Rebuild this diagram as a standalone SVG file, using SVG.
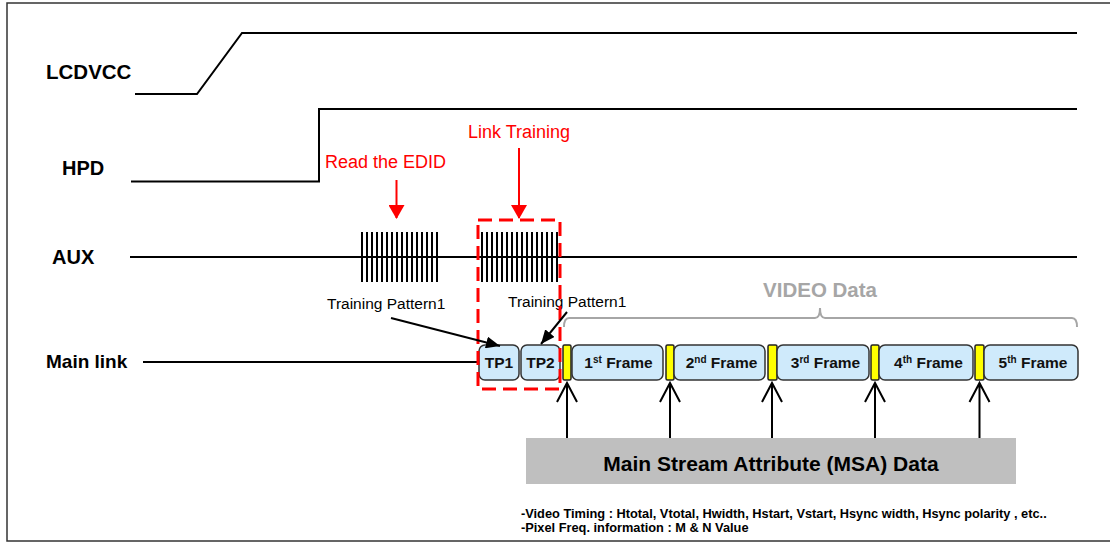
<svg xmlns="http://www.w3.org/2000/svg" width="1110" height="543" viewBox="0 0 1110 543">
<defs>
<style>
.sig{fill:none;stroke:#000;stroke-width:2}
.lbl{font-family:"Liberation Sans",Arial,sans-serif;font-weight:bold;font-size:20px;fill:#000}
.red{font-family:"Liberation Sans",Arial,sans-serif;font-size:18px;fill:#ff0000}
.tp{font-family:"Liberation Sans",Arial,sans-serif;font-size:15.5px;fill:#000}
.box{fill:#cfeafb;stroke:#333;stroke-width:1.5}
.yel{fill:#ffff00;stroke:#222;stroke-width:1.5}
.ft{font-family:"Liberation Sans",Arial,sans-serif;font-weight:bold;font-size:15.5px;fill:#111;text-anchor:middle}
.sup{font-size:10px}
.note{font-family:"Liberation Sans",Arial,sans-serif;font-weight:bold;font-size:12.8px;fill:#000}
.up{fill:none;stroke:#000;stroke-width:2}
</style>
<marker id="redHead" viewBox="0 0 14 16" refX="13" refY="8" markerWidth="14" markerHeight="16" markerUnits="userSpaceOnUse" orient="auto">
<path d="M0,0 L14,8 L0,16 Z" fill="#ff0000"/>
</marker>
<marker id="blkHead" viewBox="0 0 14 12" refX="14" refY="6" markerWidth="14" markerHeight="12" markerUnits="userSpaceOnUse" orient="auto">
<path d="M0,0 L14,6 L0,12 Z" fill="#000"/>
</marker>
</defs>
<rect x="0" y="0" width="1110" height="543" fill="#fff"/>
<path d="M1112,3 H7 V541 H1112" fill="none" stroke="#333" stroke-width="1.5"/>

<g id="signal-lcdvcc">
<text class="lbl" x="46" y="79" style="font-size:20.5px">LCDVCC</text>
<path class="sig" d="M135 94 H197 L242 33 H1077"/>
</g>
<g id="signal-hpd">
<text class="lbl" x="62" y="175">HPD</text>
<path class="sig" d="M131 181.5 H319 V109 H1077"/>
</g>
<g id="signal-aux">
<text class="lbl" x="52" y="264">AUX</text>
<path class="sig" d="M130 257 H1077"/>
<path class="sig" d="M362 232V282M367 232V282M372 232V282M377 232V282M382 232V282M387 232V282M392 232V282M397 232V282M402 232V282M407 232V282M412 232V282M417 232V282M422 232V282M427 232V282M432 232V282M437 232V282"/>
<path class="sig" d="M482 232V282M487 232V282M492 232V282M497 232V282M502 232V282M507 232V282M512 232V282M517 232V282M522 232V282M527 232V282M532 232V282M537 232V282M542 232V282M547 232V282M552 232V282M557 232V282"/>
</g>
<g id="signal-mainlink">
<text class="lbl" x="46" y="368" style="font-size:19px">Main link</text>
<path class="sig" d="M143 362 H479"/>
</g>

<g id="label-read-edid">
<text class="red" x="325" y="168">Read the EDID</text>
</g>
<g id="label-link-training">
<text class="red" x="468" y="138">Link Training</text>
</g>
<g id="label-tp-left">
<text class="tp" x="327" y="309">Training Pattern1</text>
</g>
<g id="label-tp-right">
<text class="tp" x="508" y="307">Training Pattern1</text>
</g>

<g id="video-data">
<text x="820" y="297" text-anchor="middle" style="font-family:'Liberation Sans',Arial,sans-serif;font-weight:bold;font-size:20.5px;fill:#a6a6a6">VIDEO Data</text>
<path d="M564,327 Q564,318 569,318 H815 Q820,318 820,308 Q820,318 825,318 H1072 Q1077,318 1077,327" fill="none" stroke="#a6a6a6" stroke-width="2"/>
</g>

<g id="tp1"><rect class="box" x="479" y="345" width="40" height="35" rx="6"/><text class="ft" x="499" y="367.5">TP1</text></g>
<g id="tp2"><rect class="box" x="521" y="345" width="39" height="35" rx="6"/><text class="ft" x="540.5" y="367.5">TP2</text></g>
<g id="sync1"><rect class="yel" x="563" y="345" width="8" height="35" rx="1.5"/></g>
<g id="frame1"><rect class="box" x="572" y="345" width="91" height="35" rx="6"/><text class="ft" x="618.5" y="368">1<tspan class="sup" dy="-5">st</tspan><tspan dy="5"> Frame</tspan></text></g>
<g id="sync2"><rect class="yel" x="666" y="345" width="8" height="35" rx="1.5"/></g>
<g id="frame2"><rect class="box" x="674" y="345" width="91" height="35" rx="6"/><text class="ft" x="721.5" y="368">2<tspan class="sup" dy="-5">nd</tspan><tspan dy="5"> Frame</tspan></text></g>
<g id="sync3"><rect class="yel" x="768" y="345" width="9" height="35" rx="1.5"/></g>
<g id="frame3"><rect class="box" x="777" y="345" width="92" height="35" rx="6"/><text class="ft" x="825.5" y="368">3<tspan class="sup" dy="-5">rd</tspan><tspan dy="5"> Frame</tspan></text></g>
<g id="sync4"><rect class="yel" x="871" y="345" width="8" height="35" rx="1.5"/></g>
<g id="frame4"><rect class="box" x="879" y="345" width="94" height="35" rx="6"/><text class="ft" x="928.5" y="368">4<tspan class="sup" dy="-5">th</tspan><tspan dy="5"> Frame</tspan></text></g>
<g id="sync5"><rect class="yel" x="975" y="345" width="9" height="35" rx="1.5"/></g>
<g id="frame5"><rect class="box" x="984" y="345" width="94" height="35" rx="6"/><text class="ft" x="1033" y="368">5<tspan class="sup" dy="-5">th</tspan><tspan dy="5"> Frame</tspan></text></g>

<g id="link-training-box">
<rect x="478" y="220" width="82" height="169" fill="none" stroke="#ff0000" stroke-width="3" stroke-dasharray="14 7"/>
</g>

<g id="msa">
<rect x="526" y="438" width="490" height="46" fill="#bfbfbf"/>
<text x="771" y="471" text-anchor="middle" style="font-family:'Liberation Sans',Arial,sans-serif;font-weight:bold;font-size:21px;fill:#000">Main Stream Attribute (MSA) Data</text>
</g>

<g id="notes">
<text class="note" x="521" y="517.5">-Video Timing : Htotal, Vtotal, Hwidth, Hstart, Vstart, Hsync width, Hsync polarity , etc..</text>
<text class="note" x="521" y="531.5">-Pixel Freq. information : M &amp; N Value</text>
</g>

<g id="connectors">
<line x1="396.5" y1="180" x2="396.5" y2="218" stroke="#ff0000" stroke-width="2" marker-end="url(#redHead)"/>
<line x1="519" y1="148" x2="519" y2="218" stroke="#ff0000" stroke-width="2" marker-end="url(#redHead)"/>
<line x1="391" y1="318" x2="500" y2="346" stroke="#000" stroke-width="2" marker-end="url(#blkHead)"/>
<line x1="567" y1="312" x2="541" y2="344" stroke="#000" stroke-width="2" marker-end="url(#blkHead)"/>
<path class="up" d="M567 438V383M557 402L567 383L577 402"/>
<path class="up" d="M670 438V383M660 402L670 383L680 402"/>
<path class="up" d="M772 438V383M762 402L772 383L782 402"/>
<path class="up" d="M875 438V383M865 402L875 383L885 402"/>
<path class="up" d="M979.5 438V383M969.5 402L979.5 383L989.5 402"/>
</g>
</svg>
